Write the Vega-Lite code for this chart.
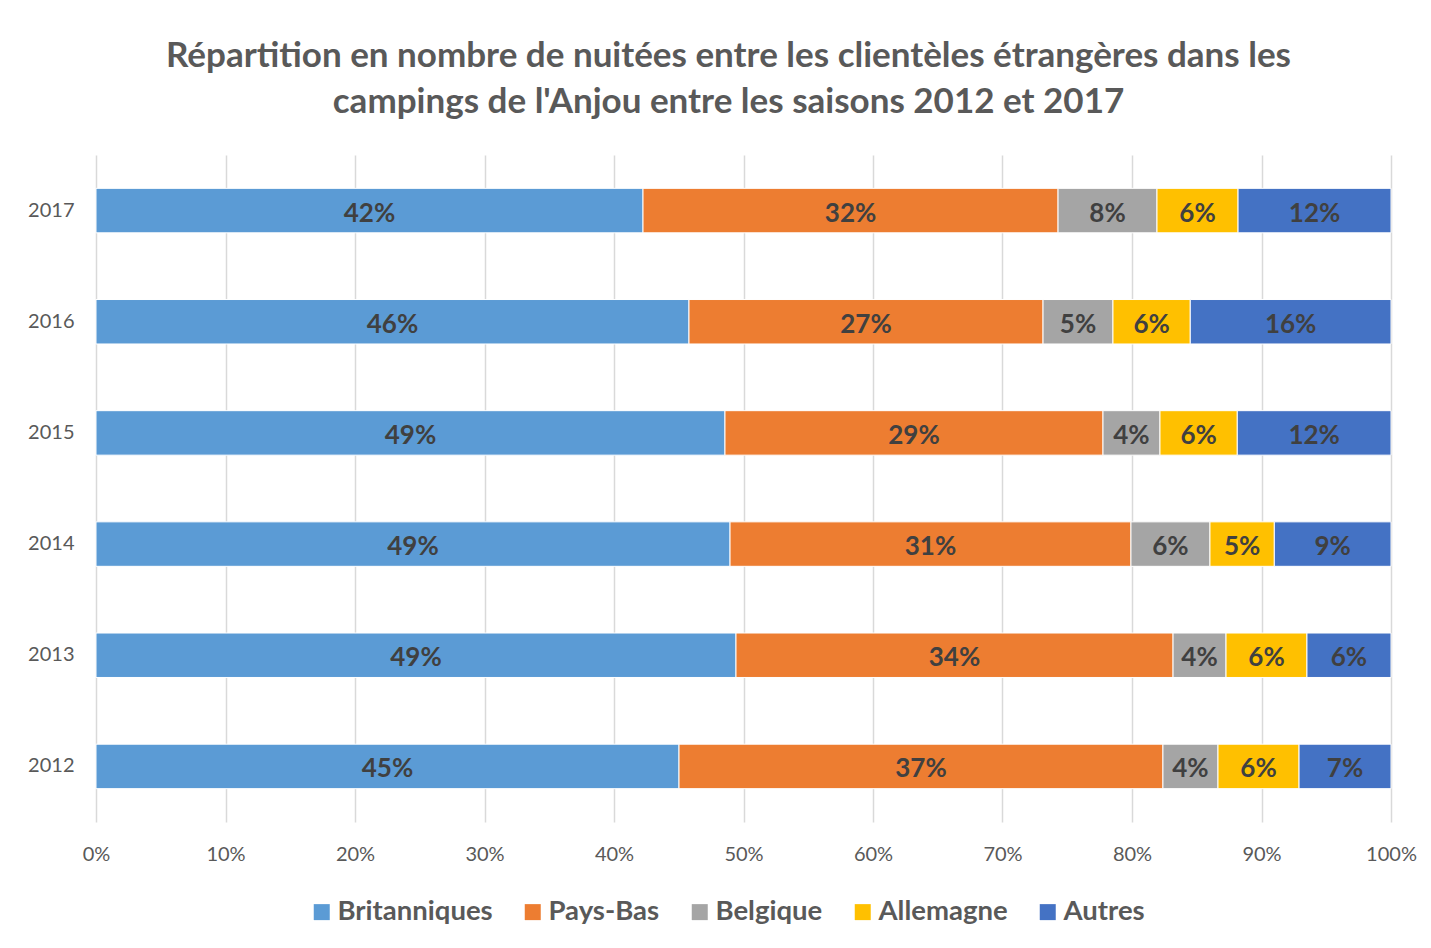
{
  "$schema": "https://vega.github.io/schema/vega-lite/v6.json",
  "width": 1295,
  "height": 667,
  "autosize": {"type": "none"},
  "padding": {"left": 96, "top": 155, "right": 40, "bottom": 126},
  "background": "white",
  "config": {"view": {"stroke": null}},
  "title": {
    "text": ["Répartition en nombre de nuitées entre les clientèles étrangères dans les", "campings de l'Anjou entre les saisons 2012 et 2017"],
    "font": "Lato", "fontSize": 35, "fontWeight": "bold", "color": "#595959",
    "anchor": "middle", "frame": "group", "offset": 35, "lineHeight": 46, "dx": -15
  },
  "data": {"values": [
    {"annee": 2017, "pays": "Britanniques", "part": 0.4224},
    {"annee": 2017, "pays": "Pays-Bas", "part": 0.3205},
    {"annee": 2017, "pays": "Belgique", "part": 0.0764},
    {"annee": 2017, "pays": "Allemagne", "part": 0.0626},
    {"annee": 2017, "pays": "Autres", "part": 0.1181},
    {"annee": 2016, "pays": "Britanniques", "part": 0.4579},
    {"annee": 2016, "pays": "Pays-Bas", "part": 0.2734},
    {"annee": 2016, "pays": "Belgique", "part": 0.0540},
    {"annee": 2016, "pays": "Allemagne", "part": 0.0597},
    {"annee": 2016, "pays": "Autres", "part": 0.1550},
    {"annee": 2015, "pays": "Britanniques", "part": 0.4857},
    {"annee": 2015, "pays": "Pays-Bas", "part": 0.2919},
    {"annee": 2015, "pays": "Belgique", "part": 0.0440},
    {"annee": 2015, "pays": "Allemagne", "part": 0.0597},
    {"annee": 2015, "pays": "Autres", "part": 0.1187},
    {"annee": 2014, "pays": "Britanniques", "part": 0.4896},
    {"annee": 2014, "pays": "Pays-Bas", "part": 0.3096},
    {"annee": 2014, "pays": "Belgique", "part": 0.0610},
    {"annee": 2014, "pays": "Allemagne", "part": 0.0497},
    {"annee": 2014, "pays": "Autres", "part": 0.0901},
    {"annee": 2013, "pays": "Britanniques", "part": 0.4942},
    {"annee": 2013, "pays": "Pays-Bas", "part": 0.3375},
    {"annee": 2013, "pays": "Belgique", "part": 0.0409},
    {"annee": 2013, "pays": "Allemagne", "part": 0.0625},
    {"annee": 2013, "pays": "Autres", "part": 0.0649},
    {"annee": 2012, "pays": "Britanniques", "part": 0.4502},
    {"annee": 2012, "pays": "Pays-Bas", "part": 0.3737},
    {"annee": 2012, "pays": "Belgique", "part": 0.0425},
    {"annee": 2012, "pays": "Allemagne", "part": 0.0626},
    {"annee": 2012, "pays": "Autres", "part": 0.0710}
  ]},
  "transform": [
    {"calculate": "indexof(['Britanniques','Pays-Bas','Belgique','Allemagne','Autres'], datum.pays)", "as": "k"},
    {"stack": "part", "groupby": ["annee"], "sort": [{"field": "k", "order": "ascending"}], "as": ["x0", "x1"], "offset": "normalize"},
    {"calculate": "(datum.x0 + datum.x1) / 2", "as": "xm"}
  ],
  "encoding": {
    "y": {
      "field": "annee", "type": "ordinal", "sort": "descending",
      "scale": {"paddingInner": 0.6, "paddingOuter": 0.3},
      "axis": {"title": null, "domain": false, "ticks": false, "grid": false, "labelPadding": 22, "labelFont": "Lato", "labelFontSize": 20, "labelColor": "#595959"}
    }
  },
  "layer": [
    {
      "mark": {"type": "bar", "stroke": "white", "strokeWidth": 1},
      "encoding": {
        "x": {"field": "x0", "type": "quantitative", "scale": {"domain": [0, 1]},
          "axis": {"title": null, "format": ".0%", "values": [0, 0.1, 0.2, 0.3, 0.4, 0.5, 0.6, 0.7, 0.8, 0.9, 1], "grid": true, "gridColor": "#d9d9d9", "gridWidth": 1.5, "domain": false, "ticks": false, "labelPadding": 22, "labelFont": "Lato", "labelFontSize": 20, "labelColor": "#595959", "labelFlush": false}},
        "x2": {"field": "x1"},
        "color": {
          "field": "pays", "type": "nominal",
          "scale": {"domain": ["Britanniques", "Pays-Bas", "Belgique", "Allemagne", "Autres"], "range": ["#5B9BD5", "#ED7D31", "#A5A5A5", "#FFC000", "#4472C4"]},
          "legend": {"title": null, "orient": "none", "legendX": 212, "legendY": 743, "direction": "horizontal", "symbolType": "square", "symbolSize": 256, "symbolStrokeWidth": 0, "labelFont": "Lato", "labelFontSize": 27.5, "labelFontWeight": "bold", "labelColor": "#595959", "columnPadding": 26, "labelOffset": 2, "labelLimit": 400}
        }
      }
    },
    {
      "mark": {"type": "text", "font": "Lato", "fontWeight": "bold", "fontSize": 26, "color": "#404040", "dy": 3},
      "encoding": {
        "x": {"field": "xm", "type": "quantitative"},
        "text": {"field": "part", "type": "quantitative", "format": ".0%"}
      }
    }
  ]
}
